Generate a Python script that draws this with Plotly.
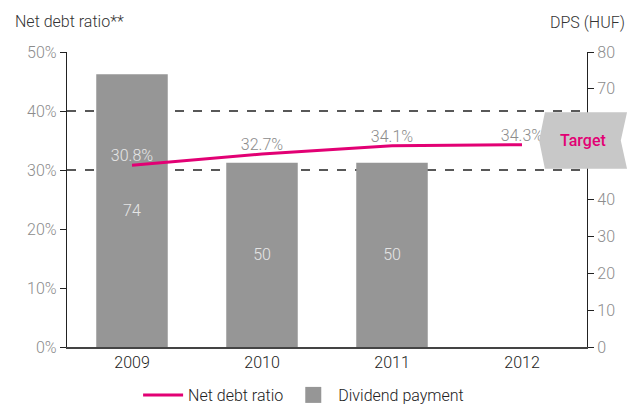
import plotly.graph_objects as go

years = ["2009", "2010", "2011", "2012"]
net_debt_ratio = [30.8, 32.7, 34.1, 34.3]
ratio_labels = ["30.8%", "32.7%", "34.1%", "34.3%"]
dps_years = ["2009", "2010", "2011"]
dps = [74, 50, 50]
dps_ticks = [0, 10, 20, 30, 40, 70, 80]

FONT = "Roboto"
MAGENTA = "#e20074"
BAR = "#969696"
TICK = "#8c8c8c"

def f(size=16, color="#333", weight=300):
    return dict(family=FONT, size=size, color=color, weight=weight)

fig = go.Figure()
fig.add_trace(go.Bar(
    x=dps_years, y=dps, yaxis="y", name="Dividend payment", showlegend=False,
    marker=dict(color=BAR, line=dict(width=0)), width=0.55,
    text=[str(v) for v in dps], textposition="inside", insidetextanchor="middle",
    textfont=f(16, "#e6e6e6"),
))
fig.add_trace(go.Scatter(
    x=years, y=net_debt_ratio, yaxis="y2", name="Net debt ratio",
    mode="lines+text", line=dict(color=MAGENTA, width=3),
    text=ratio_labels, textposition="top center",
    textfont=dict(family=FONT, size=16, weight=300, color=["#e6e6e6", TICK, TICK, TICK]),
))
# legend entry for bars (square swatch)
fig.add_trace(go.Scatter(
    x=[None], y=[None], yaxis="y", name="Dividend payment", mode="markers",
    marker=dict(symbol="square", size=18, color=BAR),
))

for v in [30, 40]:
    fig.add_shape(type="line", xref="paper", yref="y2", x0=0, x1=1, y0=v, y1=v,
                  line=dict(color="#222", width=1.3, dash="dash"), layer="below")

# Target badge
fig.add_shape(type="path", xref="paper", yref="y2",
              path="M 0.919 39.8 L 1.077 39.8 L 1.065 35.0 L 1.077 30.2 L 0.919 30.2 L 0.908 35.0 Z",
              fillcolor="#c8c8c8", line=dict(width=0), layer="above")
fig.add_annotation(xref="paper", yref="y2", x=0.993, y=35.0, xanchor="center", yanchor="middle",
                   text="Target", showarrow=False,
                   font=dict(family=FONT, size=16, color=MAGENTA, weight=500))

fig.add_annotation(xref="paper", yref="paper", x=-0.103, y=1.105, xanchor="left", yanchor="middle",
                   text="Net debt ratio**", showarrow=False, font=f(16, "#333"))
fig.add_annotation(xref="paper", yref="paper", x=1.077, y=1.1, xanchor="right", yanchor="middle",
                   text="DPS (HUF)", showarrow=False, font=f(16, "#333"))

fig.update_layout(
    width=635, height=412, margin=dict(l=67, r=48, t=52, b=65, autoexpand=False),
    paper_bgcolor="white", plot_bgcolor="white",
    font=f(16, "#333"),
    xaxis=dict(categoryorder="array", categoryarray=years, range=[-0.5, 3.5], showline=True,
               linecolor="#444", linewidth=2,
               ticks="", tickfont=f(16, "#222"), showgrid=False, fixedrange=True),
    yaxis=dict(side="right", range=[0, 80], tickmode="array", tickvals=dps_ticks, showgrid=False,
               showline=True, linecolor="#222",
               linewidth=1.3, ticks="outside", ticklen=6, tickcolor="#222", tickfont=f(16, TICK),
               zeroline=False),
    yaxis2=dict(side="left", overlaying="y", range=[0, 50], dtick=10, ticksuffix="%", showgrid=False,
                showline=True, linecolor="#222", linewidth=1.3, ticks="outside", ticklen=6, tickcolor="#222",
                tickfont=f(16, TICK), zeroline=False),
    legend=dict(orientation="h", x=0.455, xanchor="center", yref="container", y=-0.025, yanchor="bottom",
                font=f(16, "#222"), itemwidth=40),
    showlegend=True,
)
fig.write_html("out.html")
